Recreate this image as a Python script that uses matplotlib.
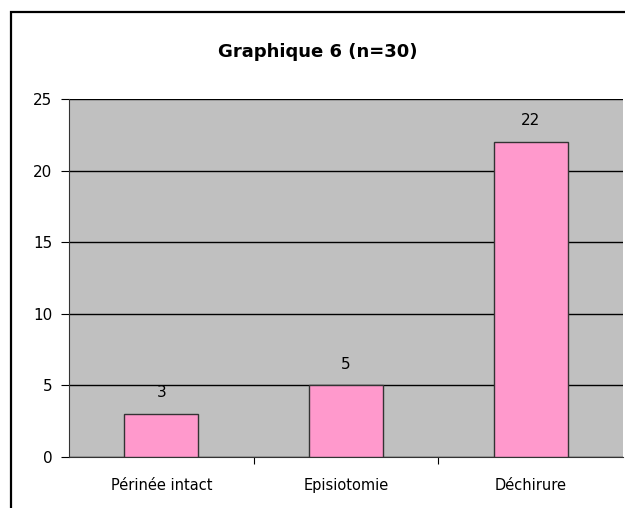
import matplotlib.pyplot as plt
from matplotlib.patches import Rectangle

categories = ['Périnée intact', 'Episiotomie', 'Déchirure']
values = [3, 5, 22]
yticks = [0, 5, 10, 15, 20, 25]

W, H = 625, 508
fig = plt.figure(figsize=(W / 100, H / 100), dpi=100)

# outer chart frame (cut at right and bottom like the screenshot)
fig.patches.append(Rectangle((11 / W, -0.05), 1.0, 1 - 12 / H + 0.05,
                             transform=fig.transFigure, fill=False,
                             edgecolor='black', linewidth=1.6))

ax = fig.add_axes([69 / W, 1 - 457 / H, (623 - 69) / W, (457 - 99) / H])
ax.set_facecolor('#C0C0C0')
x = range(len(categories))
ax.bar(x, values, width=0.4, color='#FF99CC', edgecolor='#333333', linewidth=1, zorder=3)
for xi, v in zip(x, values):
    ax.annotate(str(v), (xi, v), xytext=(0, 10), textcoords='offset points',
                ha='center', va='bottom', fontsize=11)

ax.set_xlim(-0.5, 2.5)
ax.set_ylim(0, 25)
ax.set_yticks(yticks)
ax.tick_params(axis='y', length=6, labelsize=11, pad=6)
ax.yaxis.grid(True, color='black', linewidth=1, zorder=0)
ax.set_axisbelow(True)

ax.set_xticks([0.5, 1.5], minor=False)
ax.set_xticklabels(['', ''])
ax.tick_params(axis='x', length=5, direction='out')
ax.set_xticks(list(x), minor=True)
ax.set_xticklabels(categories, minor=True, fontsize=10.5)
ax.tick_params(axis='x', which='minor', length=0, pad=15)

for s in ['top', 'right']:
    ax.spines[s].set_visible(False)
ax.spines['left'].set_color('#333333')
ax.spines['bottom'].set_color('#333333')

fig.text(0.5 * (11 + 625) / W, 1 - 52 / H, 'Graphique 6 (n=30)', ha='center', va='center',
         fontsize=13, fontweight='bold')

fig.savefig('out.png', dpi=100)
